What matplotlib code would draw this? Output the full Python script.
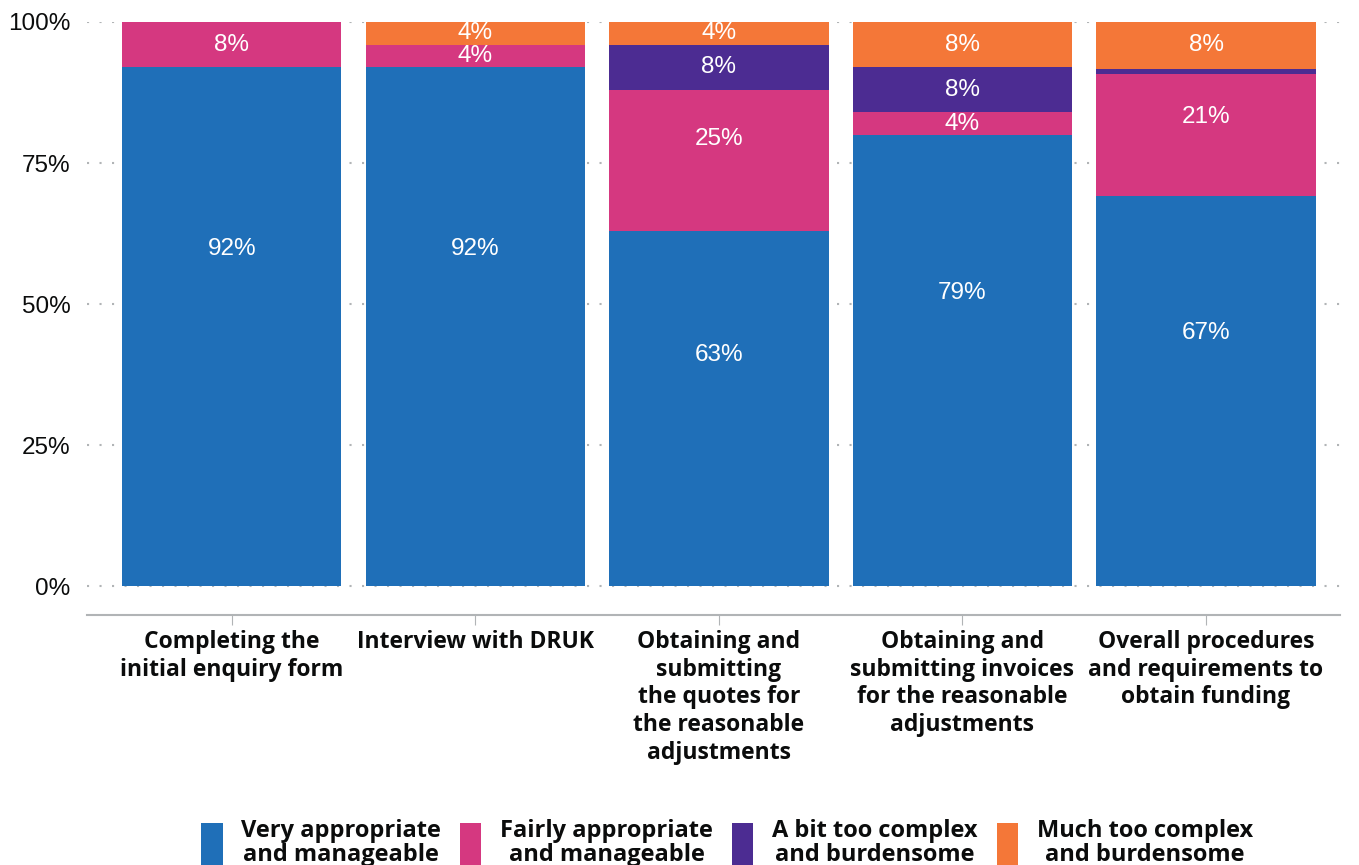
import numpy as np
import matplotlib
matplotlib.use('Agg')
import matplotlib.pyplot as plt

categories = ['Completing the\ninitial enquiry form',
              'Interview with DRUK',
              'Obtaining and\nsubmitting\nthe quotes for\nthe reasonable\nadjustments',
              'Obtaining and\nsubmitting invoices\nfor the reasonable\nadjustments',
              'Overall procedures\nand requirements to\nobtain funding']
series_names = ['Very appropriate\nand manageable', 'Fairly appropriate\nand manageable',
                'A bit too complex\nand burdensome', 'Much too complex\nand burdensome']
colors = ['#1f6fb8', '#d53880', '#4c2c92', '#f47738']

very_appropriate = [92, 92, 63, 80, 69.1]
fairly_appropriate = [8, 4, 25, 4, 21.7]
bit_too_complex = [0, 0, 8, 8, 0.9]
much_too_complex = [0, 4, 4, 8, 8.3]

very_labels = ['92%', '92%', '63%', '79%', '67%']
fairly_labels = ['8%', '4%', '25%', '4%', '21%']
bit_labels = ['', '', '8%', '8%', '']
much_labels = ['', '4%', '4%', '8%', '8%']

values = [very_appropriate, fairly_appropriate, bit_too_complex, much_too_complex]
labels = [very_labels, fairly_labels, bit_labels, much_labels]

bold_font = 'Open Sans'

fig = plt.figure(figsize=(13.59, 8.65), dpi=100)
ax = fig.add_axes([0.064, 0.289, 0.922, 0.6856])

x = np.arange(len(categories))
bottom = np.zeros(len(categories))
for i in range(len(values)):
    v = np.array(values[i], dtype=float)
    ax.bar(x, v, width=0.9, bottom=bottom, color=colors[i], label=series_names[i], zorder=2)
    for j in range(len(x)):
        if labels[i][j] == '':
            continue
        frac = 0.65 if v[j] >= 20 else 0.5
        ax.text(x[j], bottom[j] + v[j] * frac, labels[i][j], ha='center', va='center',
                color='white', fontsize=17.5, family='Liberation Sans', zorder=3)
    bottom += v

ax.set_xlim(-0.595, 4.55)
ax.set_ylim(-5.1, 100)
ax.set_yticks([0, 25, 50, 75, 100])
ax.set_yticklabels(['0%', '25%', '50%', '75%', '100%'], fontsize=17.5, family='Liberation Sans')
ax.tick_params(axis='y', length=0, pad=12, colors='#0b0c0c')
ax.set_xticks(x)
ax.set_xticklabels(categories, fontsize=16.5, family=bold_font, fontweight='bold', linespacing=1.2,
                   color='#0b0c0c')
ax.tick_params(axis='x', length=7, color='#b1b4b6', pad=4)
ax.yaxis.grid(True, color='#b1b4b6', linestyle=(0, (1, 5)), linewidth=1.5, zorder=0)
for s in ['top', 'right', 'left']:
    ax.spines[s].set_visible(False)
ax.spines['bottom'].set_color('#b1b4b6')
ax.spines['bottom'].set_linewidth(1.5)

leg = fig.legend(loc='upper center', bbox_to_anchor=(0.535, 0.078), ncol=4, frameon=False,
                 handlelength=0.9, handleheight=2.5, handletextpad=0.8, columnspacing=0.8,
                 prop={'family': bold_font, 'weight': 'bold', 'size': 17})
for t in leg.get_texts():
    t.set_multialignment('center')
    t.set_linespacing(1.0)
    t.set_color('#0b0c0c')

fig.savefig('out.png', dpi=100)
